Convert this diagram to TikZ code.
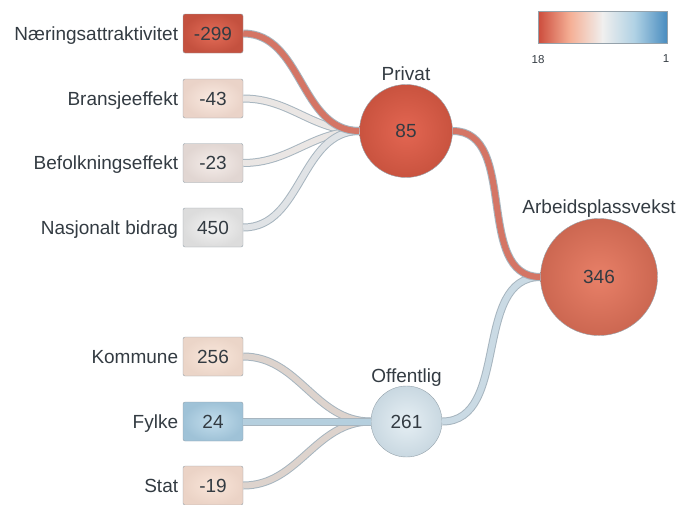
\documentclass[tikz,border=0pt]{standalone}
\usepackage{fontspec}
\setmainfont{Liberation Sans}
\usepackage{xcolor}
\usepackage{tikz}
\usetikzlibrary{shapes,calc,positioning}

\definecolor{ink}{HTML}{333B42}
\definecolor{rim}{HTML}{95A2AB}
\definecolor{bandRim}{HTML}{A7B5BF}
%% node fills (centre / edge)
\definecolor{narIn}{HTML}{E46D58}\definecolor{narOut}{HTML}{C4513F}
\definecolor{braIn}{HTML}{FAEAE1}\definecolor{braOut}{HTML}{EAD3C8}
\definecolor{befIn}{HTML}{F5EDEA}\definecolor{befOut}{HTML}{E1D6D2}
\definecolor{nasIn}{HTML}{F3F3F3}\definecolor{nasOut}{HTML}{DCDCDC}
\definecolor{komIn}{HTML}{F9E7DB}\definecolor{komOut}{HTML}{EBD5C8}
\definecolor{fylIn}{HTML}{C2DDEC}\definecolor{fylOut}{HTML}{9FC2D7}
\definecolor{staIn}{HTML}{F9E5D9}\definecolor{staOut}{HTML}{EBD3C6}
\definecolor{priIn}{HTML}{E36652}\definecolor{priOut}{HTML}{C9533F}
\definecolor{arbIn}{HTML}{E88068}\definecolor{arbOut}{HTML}{CC6751}
\definecolor{offIn}{HTML}{E6EFF4}\definecolor{offOut}{HTML}{C9D8E1}
%% bands
\definecolor{bandRed}{HTML}{D47565}
\definecolor{bandPale}{HTML}{EAE6E4}
\definecolor{bandGrey}{HTML}{E0E3E6}
\definecolor{bandBeige}{HTML}{DDD3CD}
\definecolor{bandLBlue}{HTML}{B5CFDE}
\definecolor{bandBlue}{HTML}{CADAE4}
%% legend
\definecolor{legRed}{HTML}{CC4C3C}
\definecolor{legPeach}{HTML}{F5B096}
\definecolor{legWhite}{HTML}{F0EFEE}
\definecolor{legLBlue}{HTML}{AFD1E4}
\definecolor{legBlue}{HTML}{4A8DC0}

\begin{document}
\begin{tikzpicture}
[x=1pt,y=-1pt,
every node/.style={text=ink,font=\fontsize{19}{22}\selectfont,text depth=0pt},
box/.style={shape=rectangle,draw=rim,rounded corners=2pt,minimum width=60pt,
	minimum height=39pt,inner sep=0pt,shade,inner color=#1In,outer color=#1Out},
circ/.style 2 args={shape=circle,draw=rim,minimum size=#2,inner sep=0pt,
	shade,inner color=#1In,outer color=#1Out},
lab/.style={inner sep=0pt},
tiny/.style={inner sep=0pt,font=\fontsize{11.5}{13}\selectfont},
band/.style={draw=bandRim,line width=1pt,double=#1,double distance=6pt,
	out=0,in=180}]
\useasboundingbox (0,0) rectangle (679,504);
%% inputs
\node[box=nar] (nar) at (213,33.5) {-299};
\node[box=bra] (bra) at (213,98.5) {-43};
\node[box=bef] (bef) at (213,163) {-23};
\node[box=nas] (nas) at (213,227.5) {450};
\node[box=kom] (kom) at (213,356.5) {256};
\node[box=fyl] (fyl) at (213,421.5) {24};
\node[box=sta] (sta) at (213,485.5) {-19};
\node[lab,left=4.5pt of nar] (narLab) {Næringsattraktivitet};
\node[lab,left=4.5pt of bra] (braLab) {Bransjeeffekt};
\node[lab,left=4.5pt of bef] (befLab) {Befolkningseffekt};
\node[lab,left=4.5pt of nas] (nasLab) {Nasjonalt bidrag};
\node[lab,left=4.5pt of kom] (komLab) {Kommune};
\node[lab,left=4.5pt of fyl] (fylLab) {Fylke};
\node[lab,left=4.5pt of sta] (staLab) {Stat};
%% sums
\node[circ={pri}{93pt}] (pri) at (406,131) {85};
\node[circ={off}{71pt}] (off) at (406.5,421.5) {261};
\node[circ={arb}{117pt}] (arb) at (599,277) {346};
\node[lab,above=3.5pt of pri] (priLab) {Privat};
\node[lab,above=3.5pt of off] (offLab) {Offentlig};
\node[lab,above=5pt of arb] (arbLab) {Arbeidsplassvekst};
%% legend
\shade[left color=legRed,right color=legWhite,middle color=legPeach]
	(538,11) rectangle (602.5,43);
\shade[left color=legWhite,right color=legBlue,middle color=legLBlue]
	(602.5,11) rectangle (667,43);
\draw[rim] (538,11) rectangle (667,43);
\node[tiny] (legHigh) at (538,59) {18};
\node[tiny] (legLow) at (666,59) {1};
%% flows
\path
\foreach \startNode/\endNode/\bandColor in {bra/pri/bandPale,bef/pri/bandPale,
	nas/pri/bandGrey,nar/pri/bandRed,kom/off/bandBeige,sta/off/bandBeige,
	fyl/off/bandLBlue,off/arb/bandBlue,pri/arb/bandRed}
{
	(\startNode) edge[band=\bandColor] (\endNode)
};
\end{tikzpicture}
\end{document}
